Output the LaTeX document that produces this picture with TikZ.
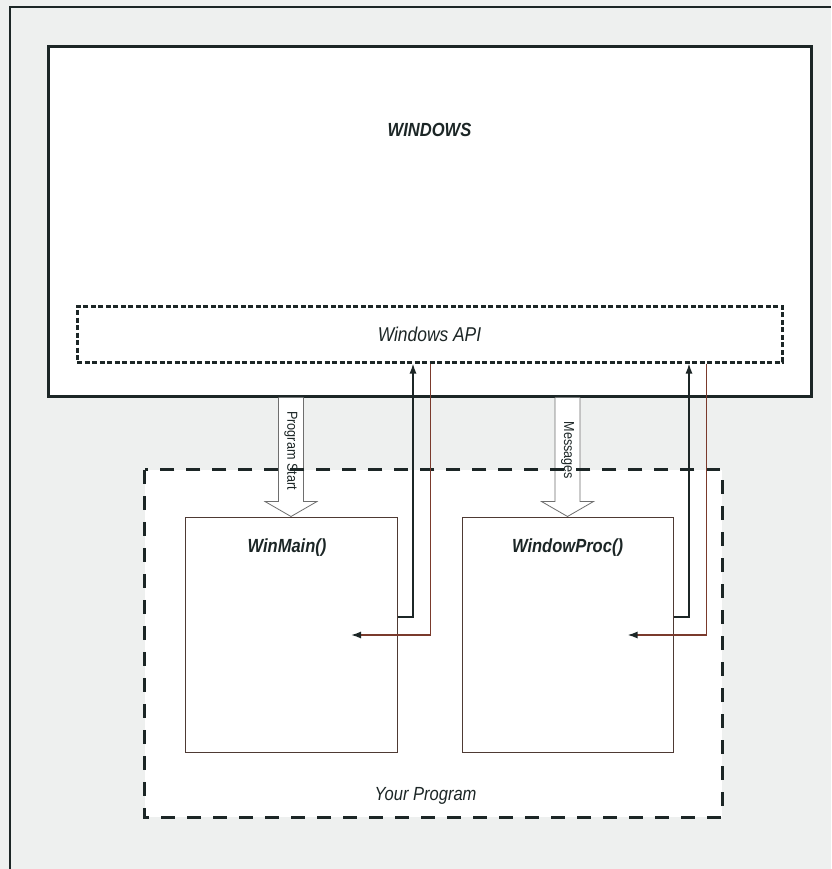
\documentclass[tikz,border=0pt]{standalone}
\usepackage{fontspec}
\setmainfont{Liberation Sans}[FakeStretch=0.87]
\usetikzlibrary{arrows.meta,calc}
\definecolor{winpaper}{HTML}{EEF0EF}
\definecolor{winink}{HTML}{1C2626}
\definecolor{wingray}{HTML}{6E6E6E}
\definecolor{winbrown}{HTML}{4E3A34}
\definecolor{winred}{HTML}{7A3A2C}

\begin{document}
\begin{tikzpicture}[x=1pt,y=-1pt,
    winbox/.style={draw=winink,line width=3pt,fill=white,minimum width=763pt,minimum height=349pt},
    apibox/.style={draw=winink,line width=3pt,dash pattern=on 5pt off 2.5pt,
      minimum width=705pt,minimum height=56pt,text=winink,font=\fontsize{20}{24}\selectfont\itshape},
    progbox/.style={fill=white,minimum width=577pt,minimum height=347pt},
    progdash/.style={draw=winink,line width=3pt,dash pattern=on 14pt off 12pt},
    procbox/.style={draw=winbrown,line width=1pt,fill=white,minimum width=212pt,minimum height=235pt},
    title/.style={text=winink,font=\fontsize{19}{23}\selectfont\bfseries\itshape},
    caption/.style={text=winink,font=\fontsize{19}{23}\selectfont\itshape},
    hollow/.style={draw=wingray,fill=white,line width=0.8pt},
    sidelabel/.style={text=winink,font=\fontsize{14.5}{16}\selectfont,rotate=-90,inner sep=0pt},
    call/.style={draw=winink,line width=1.5pt,-{Latex[length=10pt,width=7pt]}},
    reply/.style={draw=winred,line width=1.5pt,-{Latex[length=10pt,width=7pt,color=winink]}}]
  \useasboundingbox (0,0) rectangle (831,869);
  \fill[winpaper] (0,0) rectangle (831,869);
  \draw[winink,line width=2pt] (10,869) |- (831,7);
  % the system side
  \node[winbox] (windows) at (429.5,221.5) {};
  \node[title] (wintitle) at ($(windows.north)+(0,84)$) {WINDOWS};
  \node[apibox] (api) at (429.5,334) {Windows API};
  % the program side
  \node[progbox] (program) at (433.5,643.5) {};
  \node[procbox] (winmain) at (291,634.5) {};
  \node[procbox,minimum width=211pt] (wndproc) at (567.5,634.5) {};
  \foreach \nm/\txt in {winmain/Program Start,wndproc/Messages} {
    \draw[hollow] let \p1=(\nm.north), \p2=(windows.south) in
      (\x1-12.5pt,\y2) -- (\x1-12.5pt,\y1+15pt) -- (\x1-26pt,\y1+15pt) -- (\x1,\y1)
      -- (\x1+26pt,\y1+15pt) -- (\x1+12.5pt,\y1+15pt) -- (\x1+12.5pt,\y2);
    \node[sidelabel] (\nm-in) at ($(\nm.north)+(0,-66)$) {\txt};
  }
  \draw[progdash] (program.north west) rectangle (program.south east);
  \node[title] (wmtitle) at ($(winmain.north)+(-4,31)$) {WinMain()};
  \node[title] (wptitle) at ($(wndproc.north)+(0,31)$) {WindowProc()};
  \node[caption] (progtitle) at ($(program.south)+(-8,-21)$) {Your Program};
  % calls into the API and the answers back
  \foreach \nm in {winmain,wndproc} {
    \coordinate (\nm-up) at ($(\nm.east)+(15.5,-17.5)$);
    \coordinate (\nm-down) at ($(\nm.east)+(33,0.5)$);
    \coordinate (\nm-tip) at ($(\nm.center)+(60,0.5)$);
    \draw[call] (\nm.east |- \nm-up) -- (\nm-up) -- (\nm-up |- api.south);
    \draw[reply] (\nm-down |- api.south) -- (\nm-down) -- (\nm-tip);
  }
\end{tikzpicture}
\end{document}
